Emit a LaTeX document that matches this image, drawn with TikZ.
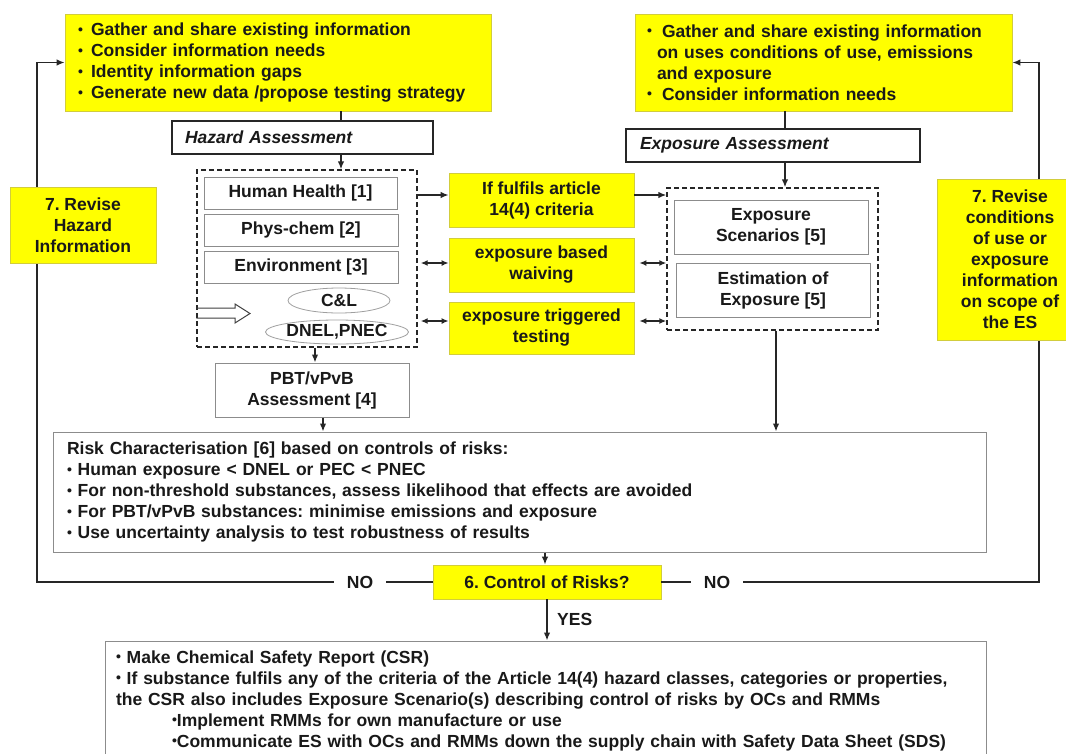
\documentclass[tikz,border=0pt]{standalone}
\usepackage{fontspec}
\setmainfont{Liberation Sans}
\usetikzlibrary{arrows.meta,shapes.geometric}
\definecolor{ylw}{RGB}{255,255,0}
\definecolor{ylwb}{RGB}{210,205,60}
\definecolor{gbord}{RGB}{140,140,140}
\definecolor{txt}{RGB}{25,25,25}
\newcommand\dotb{\raisebox{1.3pt}{\fontsize{14}{14}\selectfont•}}
\newcommand\bul{\makebox[13pt][l]{\dotb}}
\frenchspacing
\begin{document}
\begin{tikzpicture}[x=1pt,y=-1pt,
  every node/.style={font=\bfseries\fontsize{17.5}{21}\selectfont, text=txt, inner sep=0pt},
  ybox/.style={fill=ylw, draw=ylwb, line width=0.8pt, align=center},
  gbox/.style={draw=gbord, line width=1pt, fill=white, align=center},
  abox/.style={draw=black!85, line width=1.8pt, fill=white, align=left,
    font=\bfseries\itshape\fontsize{17.5}{21}\selectfont},
  dbox/.style={draw=black!85, line width=1.4pt, dash pattern=on 5pt off 3pt},
  oval/.style={ellipse, draw=gray!75, line width=0.8pt},
  ln/.style={draw=black!85, line width=1.4pt},
  arr/.style={ln, -{Latex[length=8pt,width=6.5pt]}},
  darr/.style={ln, {Latex[length=7pt,width=6pt]}-{Latex[length=7pt,width=6pt]}},
  lbl/.style={fill=white, inner xsep=13pt, inner ysep=2pt}
]
\useasboundingbox (0,0) rectangle (1066,753);
\clip (0,0) rectangle (1066,753);
\fill[white] (0,0) rectangle (1066,753);

% coordinates for connector alignment
\coordinate (xA) at (341,0);
\coordinate (xB) at (315,0);
\coordinate (xC) at (323,0);
\coordinate (yD) at (0,195);
\coordinate (yE) at (0,263);
\coordinate (yF) at (0,321);
\coordinate (xG) at (785,0);
\coordinate (xH) at (776,0);
\coordinate (xI) at (545,0);
\coordinate (xJ) at (547,0);
\coordinate (cL) at (37,582);
\coordinate (cR) at (1039,582);

% top boxes
\node[ybox, minimum width=426, minimum height=97, text width=400, align=left] (tl) at (278,62.5)
 {\bul Gather and share existing information\\
  \bul Consider information needs\\
  \bul Identity information gaps\\
  \bul Generate new data /propose testing strategy};
\node[ybox, minimum width=377, minimum height=97, text width=353, align=left] (tr) at (823.5,62.5)
 {\makebox[15pt][l]{\dotb}Gather and share existing information\\
  \hspace*{10pt}on uses conditions of use, emissions\\
  \hspace*{10pt}and exposure\\
  \makebox[15pt][l]{\dotb}Consider information needs};

% assessment headers
\node[abox, minimum width=261, minimum height=33, text width=235] (hz) at (302.5,137.5) {Hazard Assessment};
\node[abox, minimum width=294, minimum height=33, text width=266] (ea) at (773,145.5) {Exposure Assessment};

% hazard dashed group
\node[dbox, minimum width=220, minimum height=177] (dl) at (307,258.5) {};
\node[gbox, minimum width=193, minimum height=32] (hh) at (300.5,193) {Human Health [1]};
\node[gbox, minimum width=194, minimum height=32] (pc) at (301,230) {Phys-chem [2]};
\node[gbox, minimum width=194, minimum height=32] (env) at (301,267) {Environment [3]};
\node[oval, minimum width=102, minimum height=25] (cl) at (339,300.5) {C\&L};
\node[oval, minimum width=140, minimum height=24] (dn) at (337,332) {DNEL,PNEC};
\draw[draw=black!75, line width=1pt] (dl.west |- 0,308) -- (235,308) -- (235,304) -- (250,313.5)
  -- (235,323) -- (235,318) -- (dl.west |- 0,318);

\node[gbox, minimum width=194, minimum height=54] (pbt) at (312,390) {PBT/vPvB\\Assessment [4]};

% middle yellow boxes
\node[ybox, minimum width=185, minimum height=54] (b1) at (541.5,200) {If fulfils article\\14(4) criteria};
\node[ybox, minimum width=185, minimum height=54] (b2) at (541.5,265) {exposure based\\waiving};
\node[ybox, minimum width=185, minimum height=52] (b3) at (541.5,328) {exposure triggered\\testing};

% exposure dashed group
\node[dbox, minimum width=211, minimum height=142] (dr) at (772.5,259) {};
\node[gbox, minimum width=194, minimum height=54] (es) at (771,227) {Exposure\\Scenarios [5]};
\node[gbox, minimum width=194, minimum height=54] (est) at (773,290) {Estimation of\\Exposure [5]};

% risk characterisation
\node[gbox, minimum width=933, minimum height=120, text width=905, align=left] (rc) at (519.5,492)
 {Risk Characterisation [6] based on controls of risks:\\
  \dotb\ Human exposure < DNEL or PEC < PNEC\\
  \dotb\ For non-threshold substances, assess likelihood that effects are avoided\\
  \dotb\ For PBT/vPvB substances: minimise emissions and exposure\\
  \dotb\ Use uncertainty analysis to test robustness of results};

\node[ybox, minimum width=228, minimum height=34] (ctrl) at (547,582) {6. Control of Risks?};

\node[gbox, minimum width=881, minimum height=119, text width=859, align=left] (csr) at (545.5,700.5)
 {\dotb\ Make Chemical Safety Report (CSR)\\
  \dotb\ If substance fulfils any of the criteria of the Article 14(4) hazard classes, categories or properties,\\
  the CSR also includes Exposure Scenario(s) describing control of risks by OCs and RMMs\\
  \hspace*{56pt}\dotb Implement RMMs for own manufacture or use\\
  \hspace*{56pt}\dotb Communicate ES with OCs and RMMs down the supply chain with Safety Data Sheet (SDS)};

% connectors
\draw[ln] (tl.south -| xA) -- (hz.north -| xA);
\draw[arr] (hz.south -| xA) -- (dl.north -| xA);
\draw[arr] (dl.south -| xB) -- (pbt.north -| xB);
\draw[arr] (pbt.south -| xC) -- (rc.north -| xC);
\draw[arr] (dl.east |- yD) -- (b1.west |- yD);
\draw[arr] (b1.east |- yD) -- (dr.west |- yD);
\draw[darr, shorten <=3pt] (dl.east |- yE) -- (b2.west |- yE);
\draw[darr, shorten <=3pt] (dl.east |- yF) -- (b3.west |- yF);
\draw[darr, shorten <=5pt] (b2.east |- yE) -- (dr.west |- yE);
\draw[darr, shorten <=5pt] (b3.east |- yF) -- (dr.west |- yF);
\draw[ln] (tr.south -| xG) -- (ea.north -| xG);
\draw[arr] (ea.south -| xG) -- (dr.north -| xG);
\draw[arr] (dr.south -| xH) -- (rc.north -| xH);
\draw[arr] (rc.south -| xI) -- (ctrl.north -| xI);
\draw[arr] (ctrl.south -| xJ) -- (csr.north -| xJ);
\node[anchor=west] (yes) at (557,619) {YES};

% feedback loops
\node[lbl] (noL) at (360,582) {NO};
\node[lbl] (noR) at (717,582) {NO};
\draw[ln] (ctrl.west) -- (noL);
\draw[arr] (noL) -- (cL) |- (tl.west);
\draw[ln] (ctrl.east) -- (noR);
\draw[arr] (noR) -- (cR) |- (tr.east);

\node[ybox, minimum width=146, minimum height=76] (rvl) at (83,225) {7. Revise\\Hazard\\Information};
\node[ybox, minimum width=146, minimum height=161] (rvr) at (1010,259.5)
 {7. Revise\\conditions\\of use or\\exposure\\information\\on scope of\\the ES};
\end{tikzpicture}
\end{document}
